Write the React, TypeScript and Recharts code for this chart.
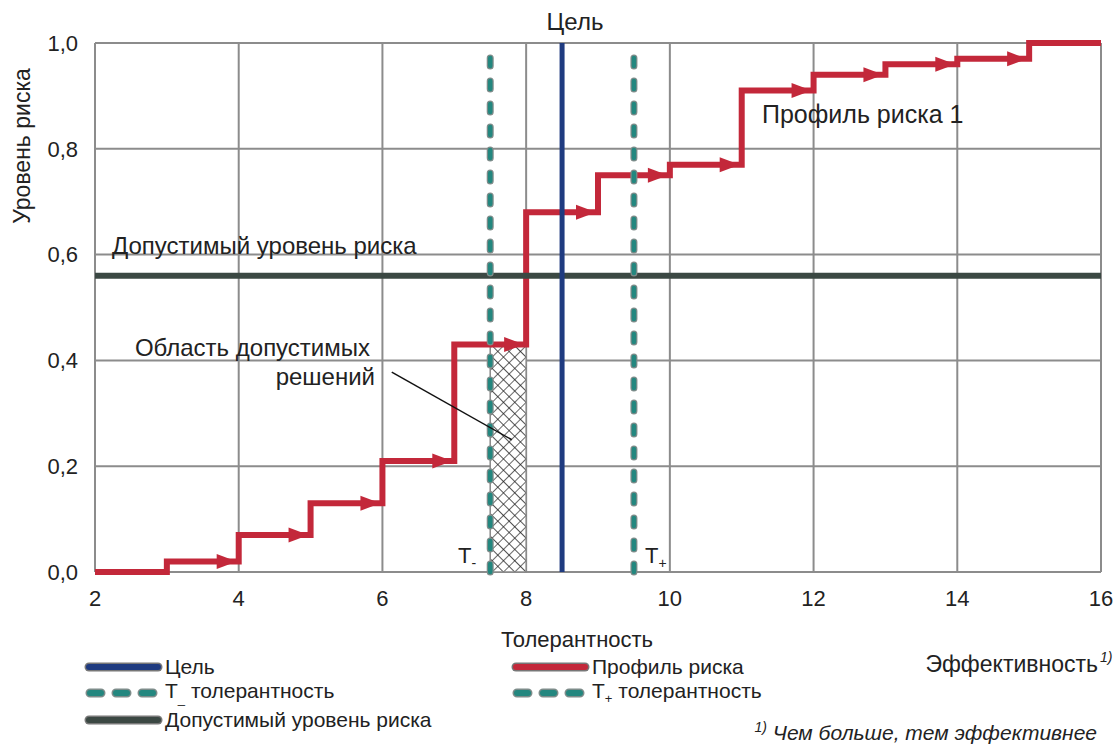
import React from 'react';
import {
  ComposedChart,
  Line,
  Scatter,
  XAxis,
  YAxis,
  CartesianGrid,
  ReferenceLine,
  ReferenceArea,
} from 'recharts';

// ---- data ----
const efficiency = [2, 3, 4, 5, 6, 7, 8, 9, 10, 11, 12, 13, 14, 15, 16];
const riskLevel = [0, 0.02, 0.07, 0.13, 0.21, 0.43, 0.68, 0.75, 0.77, 0.91, 0.94, 0.96, 0.97, 1.0, 1.0];
const xTicks = [2, 4, 6, 8, 10, 12, 14, 16];
const yTicks = [0, 0.2, 0.4, 0.6, 0.8, 1.0];
const targetValue = 8.5;
const toleranceMinus = 7.5;
const tolerancePlus = 9.5;
const acceptableRisk = 0.56;
const feasibleFrom = 7.5;
const feasibleTo = 8.0;
const feasibleTop = 0.43;
const leaderFrom = { x: 6.13, y: 0.378 };
const leaderTo = { x: 7.8, y: 0.25 };

const profileData = efficiency.map((x, i) => ({ x, y: riskLevel[i] }));
// arrow heads at the end of each horizontal step (segments 3..15)
const arrowData = efficiency
  .slice(1, 13)
  .map((x, i) => ({ x: efficiency[i + 2], y: riskLevel[i + 1] }));

const FONT = '"Liberation Sans", Arial, sans-serif';
const RED = '#c3283a';
const NAVY = '#1f3b80';
const TEAL = '#23877f';
const TEAL_EDGE = '#7d8c8a';
const DARK = '#3b4843';
const GRID = '#8c8c8c';

const fmt = (v: number) => v.toFixed(1).replace('.', ',');

const ArrowHead = (props: any) => {
  const { cx, cy } = props;
  if (cx == null || cy == null) return null;
  const tip = cx - 2;
  return (
    <polygon
      points={`${tip},${cy} ${tip - 20},${cy - 7.5} ${tip - 20},${cy + 7.5}`}
      fill={RED}
    />
  );
};

const LegendLine = ({ color, dashed }: { color: string; dashed?: boolean }) => (
  <svg width={79} height={14} style={{ display: 'block' }}>
    {dashed ? (
      <>
        <line x1={6} y1={7} x2={74} y2={7} stroke={TEAL_EDGE} strokeWidth={9} strokeLinecap="round" strokeDasharray="11 15" />
        <line x1={6} y1={7} x2={74} y2={7} stroke={TEAL} strokeWidth={6} strokeLinecap="round" strokeDasharray="11 15" />
      </>
    ) : (
      <>
        <line x1={5} y1={7} x2={74} y2={7} stroke="#777" strokeWidth={9} strokeLinecap="round" />
        <line x1={5} y1={7} x2={74} y2={7} stroke={color} strokeWidth={6} strokeLinecap="round" />
      </>
    )}
  </svg>
);

export default function App() {
  const legendItem = (left: number, centerY: number, color: string, label: React.ReactNode, dashed?: boolean) => (
    <div
      style={{
        position: 'absolute',
        left,
        top: centerY - 13,
        height: 26,
        display: 'flex',
        alignItems: 'center',
        fontFamily: FONT,
        fontSize: 21,
        color: '#222',
        whiteSpace: 'nowrap',
      }}
    >
      <LegendLine color={color} dashed={dashed} />
      <span style={{ marginLeft: 2 }}>{label}</span>
    </div>
  );

  return (
    <div style={{ position: 'absolute', left: 0, top: 0, width: 1119, height: 744, background: '#fff' }}>
      <svg width={0} height={0} style={{ position: 'absolute' }}>
        <defs>
          <pattern id="xhatch" width={8} height={8} patternUnits="userSpaceOnUse" patternTransform="rotate(45)">
            <rect width={8} height={8} fill="#fff" />
            <path d="M0 0 L0 8 M0 0 L8 0" stroke="#1a1a1a" strokeWidth={1.3} />
          </pattern>
        </defs>
      </svg>
      <ComposedChart
        width={1119}
        height={744}
        data={profileData}
        margin={{ top: 43, right: 18, left: 0, bottom: 132 }}
      >
        <CartesianGrid stroke={GRID} strokeWidth={2} />
        <XAxis
          dataKey="x"
          type="number"
          domain={[2, 16]}
          ticks={xTicks}
          axisLine={false}
          tickLine={false}
          tickMargin={12}
          height={40}
          tick={{ fontSize: 22, fill: '#222', fontFamily: FONT }}
          allowDataOverflow
        />
        <YAxis
          type="number"
          domain={[0, 1]}
          ticks={yTicks}
          tickFormatter={fmt}
          axisLine={false}
          tickLine={false}
          tickMargin={11}
          width={95}
          tick={{ fontSize: 22, fill: '#222', fontFamily: FONT }}
        />
        <ReferenceArea
          x1={feasibleFrom}
          x2={feasibleTo}
          y1={0}
          y2={feasibleTop}
          fill="url(#xhatch)"
          fillOpacity={1}
          stroke="#888"
          strokeWidth={1.5}
        />
        <Line
          type="stepAfter"
          dataKey="y"
          stroke={RED}
          strokeWidth={6}
          dot={false}
          activeDot={false}
          strokeLinejoin="miter"
          isAnimationActive={false}
        />
        <Scatter data={arrowData} dataKey="y" shape={<ArrowHead />} isAnimationActive={false} />
        <ReferenceLine y={acceptableRisk} stroke={DARK} strokeWidth={6} />
        <ReferenceLine x={targetValue} stroke={NAVY} strokeWidth={5} />
        <ReferenceLine x={toleranceMinus} stroke={TEAL_EDGE} strokeWidth={7} strokeDasharray="8 15" strokeLinecap="round" />
        <ReferenceLine x={toleranceMinus} stroke={TEAL} strokeWidth={4.5} strokeDasharray="8 15" strokeLinecap="round" />
        <ReferenceLine x={tolerancePlus} stroke={TEAL_EDGE} strokeWidth={7} strokeDasharray="8 15" strokeLinecap="round" />
        <ReferenceLine x={tolerancePlus} stroke={TEAL} strokeWidth={4.5} strokeDasharray="8 15" strokeLinecap="round" />
        <ReferenceLine segment={[leaderFrom, leaderTo]} stroke="#111" strokeWidth={1.5} />
      </ComposedChart>

      <svg
        width={1119}
        height={744}
        style={{ position: 'absolute', left: 0, top: 0, pointerEvents: 'none' }}
        fontFamily={FONT}
      >
        <text x={22} y={146} transform="rotate(-90 22 146)" textAnchor="middle" dominantBaseline="central" fontSize={23} fill="#222">
          Уровень риска
        </text>
        <text x={575} y={30} textAnchor="middle" fontSize={24} fill="#222">Цель</text>
        <text x={112} y={254} fontSize={24} fill="#222">Допустимый уровень риска</text>
        <text x={762} y={123} fontSize={25} fill="#222">Профиль риска 1</text>
        <text x={370} y={356} textAnchor="end" fontSize={24} fill="#222">Область допустимых</text>
        <text x={375} y={385} textAnchor="end" fontSize={24} fill="#222">решений</text>
        <text x={458} y={563} fontSize={22} fill="#222">
          T<tspan fontSize={14} dy={5}>-</tspan>
        </text>
        <text x={645} y={563} fontSize={22} fill="#222">
          T<tspan fontSize={14} dy={5}>+</tspan>
        </text>
        <text x={577} y={647} textAnchor="middle" fontSize={22} fill="#222">Толерантность</text>
        <text x={1098} y={672} textAnchor="end" fontSize={23} fill="#222">Эффективность</text>
        <text x={1100} y={662} fontSize={14} fontStyle="italic" fill="#222">1)</text>
        <text x={1097} y={740} textAnchor="end" fontSize={21} fontStyle="italic" fill="#222">
          <tspan fontSize={14} dy={-8}>1)</tspan>
          <tspan dy={8}> Чем больше, тем эффективнее</tspan>
        </text>
      </svg>

      {legendItem(84, 667, NAVY, 'Цель')}
      {legendItem(84, 693, TEAL, <span>T<sub style={{ fontSize: 13 }}>_</sub> толерантность</span>, true)}
      {legendItem(84, 720, DARK, 'Допустимый уровень риска')}
      {legendItem(511, 667, RED, 'Профиль риска')}
      {legendItem(511, 693, TEAL, <span>T<sub style={{ fontSize: 13 }}>+</sub> толерантность</span>, true)}
    </div>
  );
}
